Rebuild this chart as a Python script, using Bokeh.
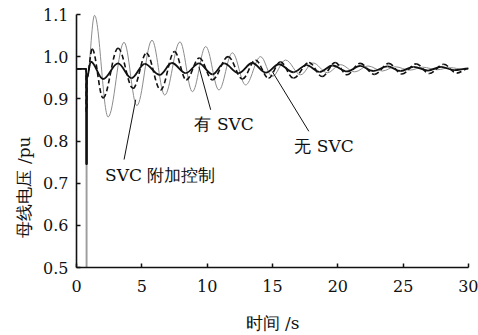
from bokeh.plotting import figure
from bokeh.models import FixedTicker, Label, PrintfTickFormatter, Title
from bokeh.embed import file_html
from bokeh.resources import INLINE

# ---- data ----
x_ticks = [0, 5, 10, 15, 20, 25, 30]
y_ticks = [0.5, 0.6, 0.7, 0.8, 0.9, 1.0, 1.1]

# pre-fault + fault (common shape, per series depth)
fault_t = [0.0, 0.74, 0.74, 0.80, 0.80]
nosvc_fault_v = [0.971, 0.971, 0.50, 0.50, 0.95]
svc_fault_v = [0.971, 0.971, 0.87, 0.87, 0.95]
ctrl_fault_v = [0.971, 0.971, 0.745, 0.745, 0.95]

# post-fault extrema (time, value)
nosvc_t = [0.80, 1.38, 2.42, 3.64, 4.62, 5.78, 6.75, 7.92, 8.87, 9.89, 10.9, 11.93, 12.94,
           14.09, 14.98, 16.0, 17.15, 18.1, 19.2, 20.2, 21.3, 22.3, 23.4, 24.4, 25.5,
           26.5, 27.6, 28.6, 29.6, 30.0]
nosvc_v = [0.95, 1.098, 0.857, 1.034, 0.884, 1.039, 0.909, 1.035, 0.917, 1.024, 0.921, 1.009, 0.933,
           1.000, 0.953, 0.992, 0.957, 0.985, 0.962, 0.981, 0.964, 0.978, 0.966, 0.976, 0.968,
           0.975, 0.969, 0.974, 0.970, 0.971]

svc_t = [0.80, 1.2, 2.03, 3.18, 4.33, 5.35, 6.44, 7.5, 8.4, 9.4, 10.4, 11.6, 12.7, 13.7,
         14.7, 15.6, 16.6, 17.8, 18.8, 19.8, 20.7, 21.7, 22.8, 23.9, 24.9, 26.0, 27.0,
         28.1, 29.1, 30.0]
svc_v = [0.95, 1.018, 0.902, 1.020, 0.925, 1.008, 0.921, 1.012, 0.945, 0.997, 0.945, 1.000, 0.947, 0.992,
         0.949, 0.988, 0.949, 0.986, 0.953, 0.986, 0.957, 0.984, 0.958, 0.984, 0.959, 0.983, 0.960,
         0.982, 0.961, 0.972]

ctrl_t = [0.80, 1.1, 2.03, 3.18, 4.2, 5.22, 6.37, 7.3, 8.36, 9.37, 10.4, 11.3, 12.4, 13.45,
          14.5, 15.5, 16.6, 17.6, 18.6, 19.6, 20.7, 21.7, 22.7, 23.8, 24.8, 25.8, 26.9,
          27.9, 28.9, 30.0]
ctrl_v = [0.95, 0.988, 0.947, 0.984, 0.949, 0.983, 0.957, 0.985, 0.961, 0.984, 0.958, 0.984, 0.961, 0.985,
          0.962, 0.982, 0.963, 0.980, 0.964, 0.979, 0.965, 0.978, 0.966, 0.977, 0.966, 0.976, 0.967,
          0.976, 0.968, 0.972]

# annotation texts, positions (data units) and leader lines
ann_text = ["SVC 附加控制", "有 SVC", "无 SVC"]
ann_x = [6.41, 11.3, 18.95]
ann_y = [0.720, 0.841, 0.788]
lead_x0 = [3.64, 10.27, 17.78]
lead_y0 = [0.756, 0.874, 0.823]
lead_x1 = [4.53, 9.37, 14.98]
lead_y1 = [0.898, 0.976, 0.965]

x_label = "时间 /s"
y_label = "母线电压 /pu"

INK = "#111111"
FONT = "DejaVu Serif"

p = figure(width=478, height=335, x_range=(0, 30), y_range=(0.5, 1.1),
           output_backend="svg", toolbar_location=None,
           min_border_left=76, min_border_right=10, min_border_top=14, min_border_bottom=67)
p.outline_line_color = None
p.grid.visible = False
p.background_fill_color = "white"

for ax in (p.xaxis, p.yaxis):
    ax.axis_line_width = 1.6
    ax.axis_line_color = INK
    ax.major_tick_line_color = INK
    ax.major_tick_line_width = 1.5
    ax.major_tick_in = 4
    ax.major_tick_out = 0
    ax.minor_tick_line_color = None
    ax.major_label_text_font = FONT
    ax.major_label_text_font_size = "16px"
    ax.major_label_text_color = INK

p.xaxis.ticker = FixedTicker(ticks=x_ticks)
p.yaxis.ticker = FixedTicker(ticks=y_ticks)
p.yaxis.formatter = PrintfTickFormatter(format="%.1f")
p.xaxis.major_label_standoff = 12
p.yaxis.major_label_standoff = 8

p.xaxis.axis_label = x_label
p.xaxis.axis_label_text_font = FONT
p.xaxis.axis_label_text_font_size = "17px"
p.xaxis.axis_label_text_font_style = "normal"
p.xaxis.axis_label_text_color = INK
p.xaxis.axis_label_standoff = 18


def smooth(ts, vs, **kw):
    k = 0.36
    x0 = ts[:-1]
    x1 = ts[1:]
    y0 = vs[:-1]
    y1 = vs[1:]
    cx0 = [a + k * (b - a) for a, b in zip(x0, x1)]
    cx1 = [b - k * (b - a) for a, b in zip(x0, x1)]
    p.bezier(x0=x0, y0=y0, x1=x1, y1=y1, cx0=cx0, cy0=y0, cx1=cx1, cy1=y1, **kw)


# 无 SVC
p.line(fault_t, nosvc_fault_v, line_color="#8c8c8c", line_width=1.0)
smooth(nosvc_t, nosvc_v, line_color="#8c8c8c", line_width=1.0)
# 有 SVC
p.line(fault_t, svc_fault_v, line_color=INK, line_width=1.6, line_dash="5 3")
smooth(svc_t, svc_v, line_color=INK, line_width=1.6, line_dash="5 3")
# SVC 附加控制
p.line(fault_t, ctrl_fault_v, line_color=INK, line_width=1.8)
smooth(ctrl_t, ctrl_v, line_color=INK, line_width=1.8)

p.segment(x0=lead_x0, y0=lead_y0, x1=lead_x1, y1=lead_y1, line_color=INK, line_width=1.0)

for txt, x, y in zip(ann_text, ann_x, ann_y):
    p.add_layout(Label(x=x, y=y, text=txt, text_align="center", text_baseline="middle",
                       text_font=FONT, text_font_size="17px", text_color=INK))

p.add_layout(Title(text=y_label, align="left", offset=30, standoff=13,
                   text_font=FONT, text_font_size="17px", text_font_style="normal",
                   text_color=INK), "left")

open("out.html", "w").write(file_html(p, INLINE))
